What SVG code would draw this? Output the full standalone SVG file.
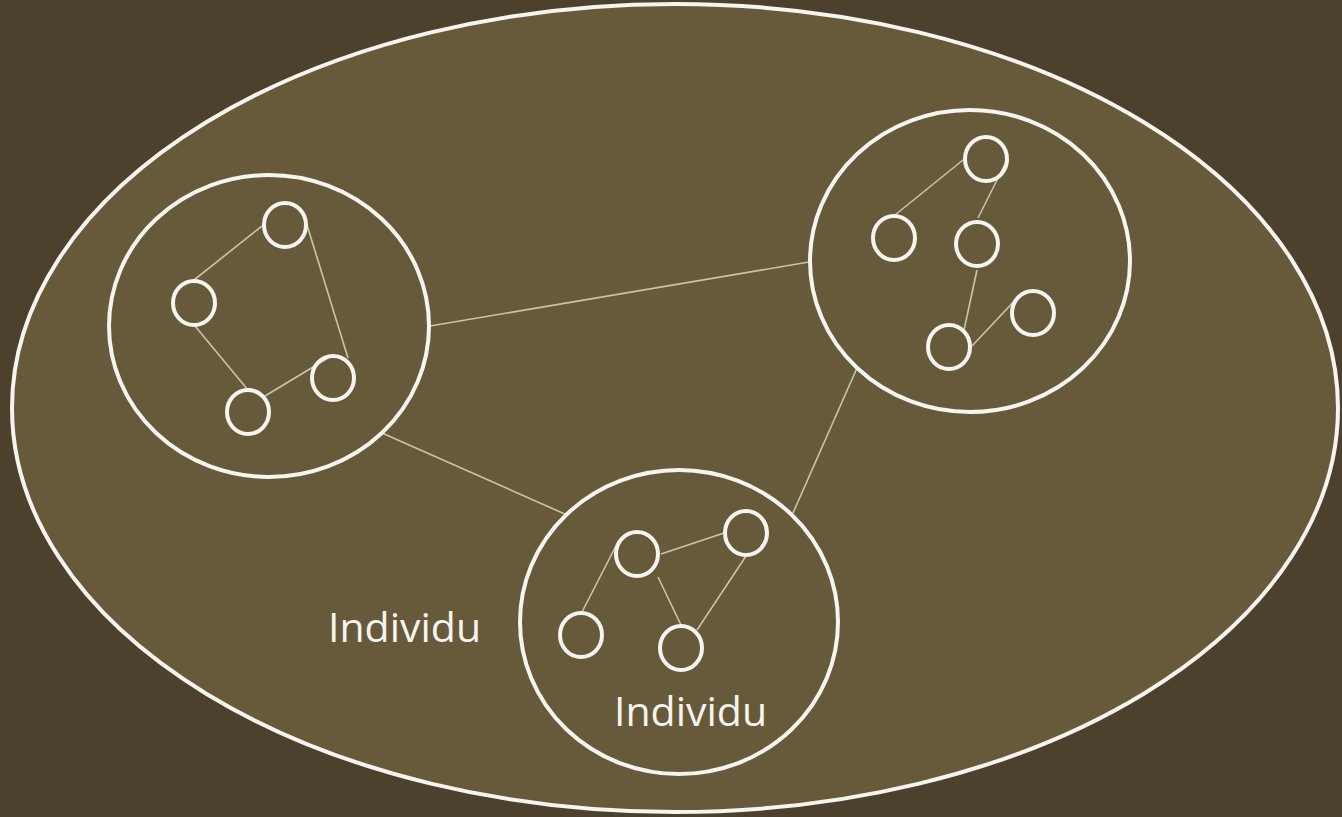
<svg xmlns="http://www.w3.org/2000/svg" width="1342" height="817" viewBox="0 0 1342 817">
<style>
.big{fill:#675A3B;stroke:#F6F4EF;stroke-width:4}
.grp{fill:none;stroke:#F6F4EF;stroke-width:4}
.n{fill:none;stroke:#F6F4EF;stroke-width:4}
.e{stroke:#C9C4AE;stroke-width:1.6;fill:none}
.t{font-family:"Open Sans",sans-serif;font-size:41px;fill:#F6F4EF}
</style>
<rect width="1342" height="817" fill="#4B412D"/>
<ellipse id="society" class="big" cx="675" cy="408" rx="663" ry="404"/>
<g id="connectors">
<line class="e" x1="430" y1="326" x2="809" y2="262"/>
<line class="e" x1="382" y1="433" x2="567" y2="515"/>
<line class="e" x1="857" y1="368" x2="793" y2="513"/>
<line class="e" x1="194" y1="280" x2="262" y2="226"/>
<line class="e" x1="307" y1="225" x2="348" y2="358"/>
<line class="e" x1="195" y1="326" x2="248" y2="390"/>
<line class="e" x1="265" y1="396" x2="333" y2="355"/>
<line class="e" x1="963" y1="160" x2="895" y2="215"/>
<line class="e" x1="1007" y1="160" x2="978" y2="218"/>
<line class="e" x1="977" y1="270" x2="964" y2="330"/>
<line class="e" x1="972" y1="346" x2="1018" y2="297"/>
<line class="e" x1="619" y1="540" x2="582" y2="612"/>
<line class="e" x1="661" y1="554" x2="724" y2="533"/>
<line class="e" x1="658" y1="577" x2="681" y2="625"/>
<line class="e" x1="746" y1="556" x2="697" y2="630"/>
</g>
<g id="group-left">
<ellipse class="grp" cx="269" cy="326" rx="160" ry="151"/>
<ellipse class="n" cx="285" cy="225" rx="21" ry="22"/>
<ellipse class="n" cx="194" cy="303" rx="21" ry="22"/>
<ellipse class="n" cx="248" cy="412" rx="21" ry="22"/>
<ellipse class="n" cx="333" cy="378" rx="21" ry="22"/>
</g>
<g id="group-right">
<ellipse class="grp" cx="970" cy="261" rx="160" ry="151"/>
<ellipse class="n" cx="986" cy="159" rx="21" ry="22"/>
<ellipse class="n" cx="894" cy="238" rx="21" ry="22"/>
<ellipse class="n" cx="977" cy="244" rx="21" ry="22"/>
<ellipse class="n" cx="949" cy="347" rx="21" ry="22"/>
<ellipse class="n" cx="1033" cy="313" rx="21" ry="22"/>
</g>
<g id="group-bottom">
<ellipse class="grp" cx="679" cy="622" rx="159" ry="152"/>
<ellipse class="n" cx="637" cy="554" rx="21" ry="22"/>
<ellipse class="n" cx="746" cy="533" rx="21" ry="22"/>
<ellipse class="n" cx="581" cy="635" rx="21" ry="22"/>
<ellipse class="n" cx="681" cy="648" rx="21" ry="22"/>
</g>
<g id="label-outer"><text class="t" x="328" y="642">Individu</text></g>
<g id="label-inner"><text class="t" x="614" y="726">Individu</text></g>
</svg>
